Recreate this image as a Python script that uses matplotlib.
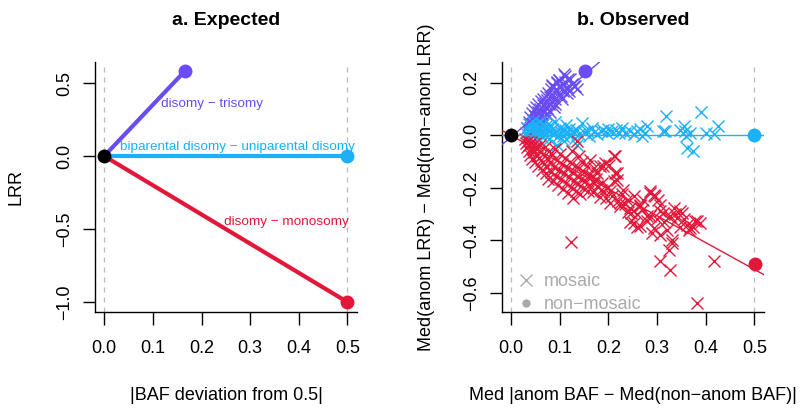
import matplotlib
matplotlib.use("Agg")
import matplotlib.pyplot as plt
from matplotlib.lines import Line2D
from matplotlib.ticker import FuncFormatter

plt.rcParams['font.family'] = ['Liberation Sans', 'DejaVu Sans']

# colours
PURPLE = "#6A4CF2"
CYAN = "#1CB0F6"
RED = "#E3173A"
GREY = "#AAAAAA"

# a. expected endpoints (start at origin)
exp_x = [1 / 6, 0.5, 0.5]
exp_y = [0.585, 0.0, -1.0]
exp_labels = ["disomy \u2212 trisomy", "biparental disomy \u2212 uniparental disomy", "disomy \u2212 monosomy"]
exp_colors = [PURPLE, CYAN, RED]
label_x = [0.222, 0.273, 0.375]
label_y = [0.356, 0.062, -0.45]

# b. observed, mosaic anomalies
gain_x = [0.033, 0.036, 0.038, 0.040, 0.042, 0.044, 0.045, 0.047, 0.048, 0.050, 0.051, 0.053,
          0.055, 0.056, 0.058, 0.060, 0.061, 0.063, 0.065, 0.066, 0.068, 0.070, 0.071, 0.073,
          0.075, 0.077, 0.078, 0.080, 0.082, 0.084, 0.085, 0.087, 0.090, 0.092, 0.094, 0.096,
          0.098, 0.100, 0.102, 0.104, 0.106, 0.108, 0.110, 0.112, 0.115, 0.118, 0.120, 0.125,
          0.130, 0.135, 0.062, 0.072, 0.088, 0.054, 0.046, 0.098, 0.084, 0.132,
          0.040, 0.050, 0.060, 0.070, 0.080, 0.090, 0.105, 0.115, 0.122, 0.095]
gain_y = [0.030, 0.050, 0.022, 0.070, 0.045, 0.085, 0.060, 0.038, 0.095, 0.072, 0.110, 0.055,
          0.088, 0.120, 0.070, 0.100, 0.130, 0.082, 0.115, 0.140, 0.095, 0.125, 0.150, 0.105,
          0.135, 0.160, 0.118, 0.145, 0.175, 0.128, 0.190, 0.155, 0.140, 0.175, 0.200, 0.160,
          0.212, 0.185, 0.150, 0.195, 0.170, 0.232, 0.205, 0.225, 0.185, 0.215, 0.170, 0.195,
          0.190, 0.175, 0.060, 0.080, 0.110, 0.035, 0.025, 0.212, 0.193, 0.189,
          0.010, 0.030, 0.045, 0.060, 0.090, 0.120, 0.140, 0.160, 0.215, 0.205]

upd_x = [0.030, 0.033, 0.035, 0.037, 0.040, 0.042, 0.044, 0.046, 0.048, 0.050, 0.052, 0.054,
         0.056, 0.058, 0.060, 0.062, 0.064, 0.066, 0.068, 0.070, 0.072, 0.075, 0.078, 0.080,
         0.082, 0.085, 0.088, 0.090, 0.093, 0.096, 0.100, 0.103, 0.106, 0.110, 0.113, 0.116,
         0.120, 0.124, 0.128, 0.132, 0.136, 0.140, 0.146, 0.150, 0.156, 0.160, 0.166, 0.170,
         0.177, 0.184, 0.094, 0.136, 0.108, 0.190, 0.200, 0.197, 0.207, 0.215, 0.221, 0.228,
         0.235, 0.245, 0.252, 0.259, 0.265, 0.269, 0.276, 0.279, 0.313, 0.317, 0.319, 0.348,
         0.355, 0.358, 0.360, 0.368, 0.361, 0.375, 0.390, 0.401, 0.417, 0.426]
upd_y = [0.010, 0.030, -0.005, 0.045, 0.015, 0.000, 0.035, 0.055, 0.020, 0.005, 0.040, -0.010,
         0.025, 0.050, 0.010, 0.030, -0.005, 0.045, 0.018, 0.002, 0.035, 0.020, -0.015, 0.040,
         0.010, 0.025, 0.005, 0.050, 0.018, -0.002, 0.030, 0.012, -0.004, 0.022, 0.040, 0.008,
         0.025, 0.003, 0.015, -0.010, 0.020, 0.005, 0.047, 0.012, 0.018, -0.002, 0.028, 0.012,
         0.004, 0.015, -0.036, -0.036, -0.020, 0.020, 0.025, 0.009, 0.015, 0.022, 0.009, 0.028,
         0.008, 0.015, 0.005, 0.015, 0.025, -0.001, 0.011, 0.034, 0.018, 0.015, 0.075, 0.022,
         0.034, 0.015, -0.004, 0.009, -0.048, -0.061, 0.090, 0.010, 0.006, 0.034]

loss_x = [0.028, 0.030, 0.032, 0.034, 0.036, 0.038, 0.040, 0.042, 0.043, 0.045, 0.047, 0.049,
          0.050, 0.052, 0.054, 0.056, 0.058, 0.060, 0.061, 0.063, 0.065, 0.067, 0.069, 0.071,
          0.073, 0.075, 0.077, 0.079, 0.081, 0.083, 0.085, 0.087, 0.089, 0.091, 0.093, 0.095,
          0.097, 0.099, 0.101, 0.103, 0.105, 0.107, 0.109, 0.111, 0.113, 0.115, 0.117, 0.119,
          0.121, 0.123, 0.125, 0.127, 0.129, 0.131, 0.133, 0.135, 0.137, 0.139, 0.141, 0.143,
          0.145, 0.147, 0.150, 0.153, 0.156, 0.158, 0.160, 0.163, 0.166, 0.170, 0.170, 0.176,
          0.177, 0.183, 0.184, 0.190, 0.190, 0.194, 0.201, 0.204, 0.204, 0.211, 0.211, 0.214,
          0.217, 0.217, 0.225, 0.225, 0.231, 0.238, 0.245, 0.245, 0.252, 0.252, 0.259, 0.266,
          0.266, 0.266, 0.272, 0.279, 0.279, 0.286, 0.286, 0.286, 0.290, 0.293, 0.293, 0.296,
          0.303, 0.307, 0.307, 0.307, 0.313, 0.320, 0.324, 0.324, 0.326, 0.327, 0.331, 0.331,
          0.334, 0.341, 0.347, 0.348, 0.351, 0.361, 0.365, 0.368, 0.375, 0.378, 0.382, 0.389,
          0.418, 0.382, 0.123, 0.136, 0.125, 0.139, 0.214, 0.307, 0.246,
          0.160, 0.168, 0.175, 0.182, 0.188, 0.196, 0.200, 0.208, 0.220, 0.228, 0.235, 0.240,
          0.258, 0.270, 0.300, 0.315, 0.337, 0.355]
loss_y = [-0.015, -0.030, -0.045, -0.020, -0.060, -0.035, -0.075, -0.025, -0.090, -0.050,
          -0.065, -0.030, -0.100, -0.045, -0.080, -0.115, -0.060, -0.035, -0.095, -0.130,
          -0.070, -0.110, -0.045, -0.145, -0.085, -0.120, -0.165, -0.060, -0.100, -0.140,
          -0.075, -0.175, -0.120, -0.050, -0.155, -0.095, -0.190, -0.130, -0.070, -0.165,
          -0.110, -0.205, -0.145, -0.085, -0.180, -0.125, -0.220, -0.160, -0.100, -0.195,
          -0.140, -0.240, -0.175, -0.115, -0.210, -0.155, -0.185, -0.125, -0.225, -0.165,
          -0.100, -0.200, -0.140, -0.175, -0.118, -0.210, -0.150, -0.093, -0.156, -0.124,
          -0.181, -0.194, -0.143, -0.118, -0.207, -0.118, -0.213, -0.105, -0.112, -0.213,
          -0.258, -0.080, -0.175, -0.143, -0.143, -0.169, -0.258, -0.270, -0.207, -0.245,
          -0.277, -0.328, -0.232, -0.334, -0.347, -0.264, -0.346, -0.270, -0.245, -0.327,
          -0.308, -0.213, -0.220, -0.308, -0.372, -0.226, -0.353, -0.232, -0.245, -0.264,
          -0.378, -0.480, -0.296, -0.359, -0.309, -0.435, -0.512, -0.308, -0.397, -0.410,
          -0.277, -0.315, -0.347, -0.289, -0.296, -0.340, -0.359, -0.353, -0.347, -0.327,
          -0.327, -0.334, -0.480, -0.639, -0.407, -0.023, -0.061, -0.080, -0.080, -0.289,
          -0.296,
          -0.190, -0.215, -0.165, -0.235, -0.180, -0.240, -0.195, -0.230, -0.250, -0.225,
          -0.260, -0.290, -0.300, -0.285, -0.320, -0.330, -0.300, -0.320]

# b. observed, non-mosaic anomalies and regression lines
nonmos_x = [0.0, 0.153, 0.5, 0.502]
nonmos_y = [0.0, 0.246, 0.0, -0.489]
nonmos_colors = ["black", PURPLE, CYAN, RED]
fit_slope = [1.57, 0.0, -1.02]
fit_icept = [-0.006, 0.0, 0.0]
fit_colors = [PURPLE, CYAN, RED]

xticks = [0.0, 0.1, 0.2, 0.3, 0.4, 0.5]

fig = plt.figure(figsize=(8, 4.12), dpi=100)
ax1 = fig.add_axes([0.119, 0.2427, 0.3275, 0.6068])
ax2 = fig.add_axes([0.6275, 0.2427, 0.3275, 0.6068])

fmt = FuncFormatter(lambda v, pos: f"{v:.1f}".replace("-", "\u2212"))


def style(ax, yticks):
    for s in ["top", "right"]:
        ax.spines[s].set_visible(False)
    for s in ["left", "bottom"]:
        ax.spines[s].set_linewidth(1.0)
    ax.set_xticks(xticks)
    ax.set_yticks(yticks)
    ax.xaxis.set_major_formatter(fmt)
    ax.yaxis.set_major_formatter(fmt)
    ax.tick_params(axis='x', length=9, width=1.0, pad=11, labelsize=13)
    ax.tick_params(axis='y', length=9, width=1.0, pad=7, labelsize=13, labelrotation=90)
    for lab in ax.get_yticklabels():
        lab.set_va('center')
    for xv in (0.0, 0.5):
        ax.axvline(xv, color="#BBBBBB", ls=(0, (4, 4)), lw=0.9, zorder=0)


# panel a
for xe, ye, c in zip(exp_x, exp_y, exp_colors):
    ax1.plot([0, xe], [0, ye], color=c, lw=3, solid_capstyle='butt', zorder=2)
    ax1.plot(xe, ye, 'o', color=c, ms=10, mec='none', zorder=3)
ax1.plot(0, 0, 'o', color='black', ms=10, mec='none', zorder=4)
for lab, lx, ly, c in zip(exp_labels, label_x, label_y, exp_colors):
    ax1.text(lx, ly, lab, color=c, fontsize=9.7, ha='center', va='center')
ax1.set_xlim(-0.0185, 0.52)
ax1.set_ylim(-1.068, 0.644)
style(ax1, [-1.0, -0.5, 0.0, 0.5])
ax1.set_title("a. Expected", fontsize=14, fontweight='bold', pad=27)
ax1.set_ylabel("LRR", fontsize=13, labelpad=23)
ax1.set_xlabel("|BAF deviation from 0.5|", fontsize=13, labelpad=22)

# panel b
msize = 75
ax2.scatter(gain_x, gain_y, marker='x', s=msize, color=PURPLE, linewidths=1.0, zorder=2)
ax2.scatter(upd_x, upd_y, marker='x', s=msize, color=CYAN, linewidths=1.0, zorder=2)
ax2.scatter(loss_x, loss_y, marker='x', s=msize, color=RED, linewidths=1.0, zorder=2)
for m, b, c in zip(fit_slope, fit_icept, fit_colors):
    ax2.axline((0, b), slope=m, color=c, lw=1.0, zorder=3)
for xv, yv, c in zip(nonmos_x, nonmos_y, nonmos_colors):
    ax2.plot(xv, yv, 'o', color=c, ms=10, mec='none', zorder=4)
ax2.set_xlim(-0.0185, 0.52)
ax2.set_ylim(-0.6725, 0.2795)
style(ax2, [-0.6, -0.4, -0.2, 0.0, 0.2])
ax2.set_title("b. Observed", fontsize=14, fontweight='bold', pad=27)
ax2.set_ylabel("Med(anom LRR) \u2212 Med(non\u2212anom LRR)", fontsize=13, labelpad=20)
ax2.set_xlabel("Med |anom BAF \u2212 Med(non\u2212anom BAF)|", fontsize=13, labelpad=22)

handles = [Line2D([], [], ls='none', marker='x', color=GREY, ms=9, mew=1.0),
           Line2D([], [], ls='none', marker='o', color=GREY, ms=6, mec='none')]
ax2.legend(handles, ["mosaic", "non\u2212mosaic"], loc='lower left', frameon=False,
           fontsize=13, labelcolor=GREY, bbox_to_anchor=(-0.005, -0.07),
           handlelength=1.0, handletextpad=0.5, labelspacing=0.35)

fig.savefig("out.png", dpi=100)
